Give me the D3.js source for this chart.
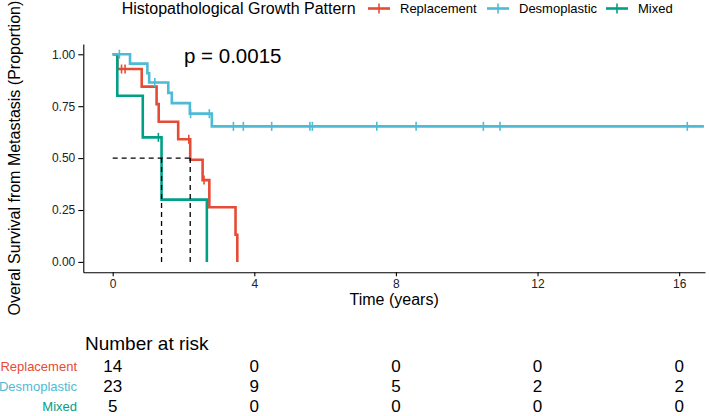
<!DOCTYPE html>
<html><head><meta charset="utf-8">
<script src="https://cdn.jsdelivr.net/npm/d3@7"></script>
<style>body{margin:0;background:#fff} svg{display:block} text{font-family:"Liberation Sans",Arial,Helvetica,sans-serif}</style>
</head><body><svg id="c" width="709" height="416"></svg>
<script>
const groups = ["Replacement","Desmoplastic","Mixed"];
const colors = ["#E64B35","#4DBBD5","#00A087"];
const replacementTime = [0,0.13,0.82,1.24,1.30,1.85,2.19,2.54,2.73,3.47,3.52];
const replacementSurv = [1,0.929,0.844,0.760,0.675,0.591,0.492,0.394,0.263,0.131,0];
const replacementCensor = [0.25,0.35,2.15,2.58];
const desmoplasticTime = [0,0.49,0.98,1.03,1.57,1.67,2.18,2.80,16.7];
const desmoplasticSurv = [1,0.955,0.909,0.864,0.814,0.765,0.714,0.653,0.653];
const desmoplasticCensor = [0.19,1.19,2.2,2.73,3.41,3.69,4.49,5.57,5.64,7.46,8.57,10.47,10.94,16.23];
const mixedTime = [0,0.13,0.85,1.38,2.66];
const mixedSurv = [1,0.8,0.6,0.3,0];
const mixedCensor = [1.29];
const medianTimes = [2.19, 1.38];
const xTicks = [0,4,8,12,16];
const yTicks = [0,0.25,0.5,0.75,1];
const riskReplacement = [14,0,0,0,0];
const riskDesmoplastic = [23,9,5,2,2];
const riskMixed = [5,0,0,0,0];
const pText = "p = 0.0015";

const svg = d3.select("#c");
const x = d3.scaleLinear().domain([-0.83, 16.73]).range([83.3, 705]);
const y = d3.scaleLinear().domain([-0.05, 1.05]).range([272.3, 43.9]);

const series = [
  {name: groups[0], color: colors[0], time: replacementTime, surv: replacementSurv, censor: replacementCensor, risk: riskReplacement},
  {name: groups[1], color: colors[1], time: desmoplasticTime, surv: desmoplasticSurv, censor: desmoplasticCensor, risk: riskDesmoplastic},
  {name: groups[2], color: colors[2], time: mixedTime, surv: mixedSurv, censor: mixedCensor, risk: riskMixed}
];

// axes
const yAxis = svg.append("g").attr("transform", `translate(${x.range()[0]},0)`)
  .call(d3.axisLeft(y).tickValues(yTicks).tickFormat(d3.format(".2f")).tickSize(5).tickSizeOuter(0).tickPadding(3));
const xAxis = svg.append("g").attr("transform", `translate(0,${y.range()[0]})`)
  .call(d3.axisBottom(x).tickValues(xTicks).tickFormat(d3.format("d")).tickSize(4).tickSizeOuter(0).tickPadding(3));
[yAxis, xAxis].forEach(a => {
  a.select(".domain").attr("stroke", "#000").attr("stroke-width", 1.1);
  a.selectAll(".tick line").attr("stroke", "#000").attr("stroke-width", 1.1);
  a.selectAll(".tick text").attr("fill", "#222").style("font-size", "12px").style("font-family", '"Liberation Sans",Arial,sans-serif');
});

// curves: draw replacement, mixed, then desmoplastic on top
const line = d3.line().curve(d3.curveStepAfter).x(d => x(d[0])).y(d => y(d[1]));
const order = [0, 2, 1];
order.forEach(i => {
  const s = series[i];
  const pts = s.time.map((t, k) => [t, s.surv[k]]);
  svg.append("path").attr("d", line(pts)).attr("fill", "none")
    .attr("stroke", s.color).attr("stroke-width", 2.6);
  const survAt = t => { let v = s.surv[0]; s.time.forEach((tt, k) => { if (tt <= t) v = s.surv[k]; }); return v; };
  s.censor.forEach(t => {
    const cx = x(t), cy = y(survAt(t));
    svg.append("line").attr("x1", cx).attr("x2", cx).attr("y1", cy - 4.5).attr("y2", cy + 4.5)
      .attr("stroke", s.color).attr("stroke-width", 1.6);
  });
});

// median lines
const maxMed = d3.max(medianTimes);
svg.append("line").attr("x1", x(0)).attr("x2", x(maxMed)).attr("y1", y(0.5)).attr("y2", y(0.5))
  .attr("stroke", "#000").attr("stroke-width", 1.3).attr("stroke-dasharray", "5,4");
medianTimes.forEach(m => {
  svg.append("line").attr("x1", x(m)).attr("x2", x(m)).attr("y1", y(0.5)).attr("y2", y(0))
    .attr("stroke", "#000").attr("stroke-width", 1.3).attr("stroke-dasharray", "5,4");
});

// p value
svg.append("text").attr("x", 184).attr("y", 63).style("font-size", "20.5px").attr("fill", "#000").text(pText);

// axis titles
svg.append("text").attr("x", (x.range()[0] + x.range()[1]) / 2).attr("y", 305).attr("text-anchor", "middle")
  .style("font-size", "16px").attr("fill", "#000").text("Time (years)");
svg.append("text").attr("transform", `translate(20,${(y.range()[0] + y.range()[1]) / 2}) rotate(-90)`)
  .attr("text-anchor", "middle").style("font-size", "16px").attr("fill", "#000")
  .text("Overal Survival from Metastasis (Proportion)");

// legend
svg.append("text").attr("x", 121.7).attr("y", 14).style("font-size", "16px").attr("fill", "#000").text("Histopathological Growth Pattern");
const legKeyX = [368, 487, 606];
series.forEach((s, i) => {
  const g = svg.append("g").attr("transform", `translate(${legKeyX[i]},8.5)`);
  g.append("line").attr("x1", 0).attr("x2", 22).attr("y1", 0).attr("y2", 0).attr("stroke", s.color).attr("stroke-width", 2.6);
  g.append("line").attr("x1", 11).attr("x2", 11).attr("y1", -5).attr("y2", 5).attr("stroke", s.color).attr("stroke-width", 1.6);
  g.append("text").attr("x", 32).attr("y", 4.5).style("font-size", "13px").attr("fill", "#000").text(s.name);
});

// risk table
svg.append("text").attr("x", 85).attr("y", 350).style("font-size", "19px").attr("fill", "#000").text("Number at risk");
const rowY = [366, 386.5, 406];
series.forEach((s, i) => {
  svg.append("text").attr("x", 77).attr("y", rowY[i]).attr("dy", "0.35em").attr("text-anchor", "end")
    .style("font-size", "13px").attr("fill", s.color).text(s.name);
  s.risk.forEach((v, k) => {
    svg.append("text").attr("x", x(xTicks[k])).attr("y", rowY[i]).attr("dy", "0.35em").attr("text-anchor", "middle")
      .style("font-size", "17px").attr("fill", "#000").text(v);
  });
});
</script></body></html>
